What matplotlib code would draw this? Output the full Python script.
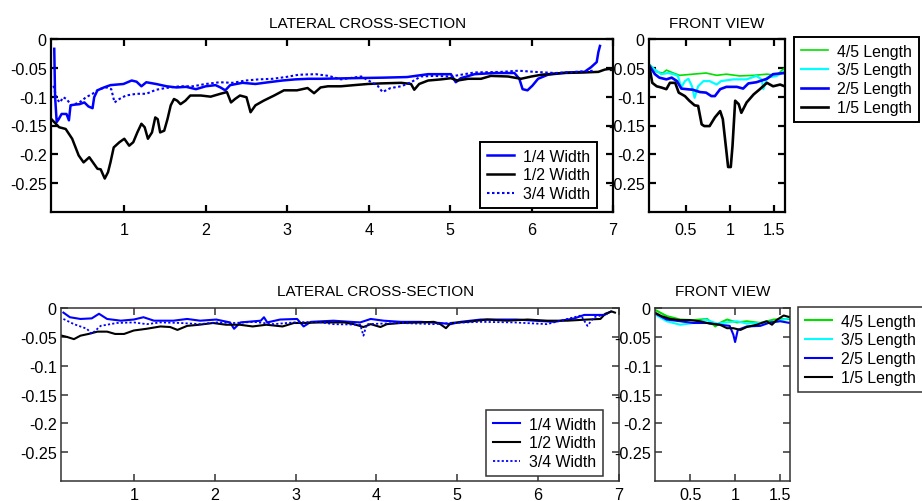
import matplotlib
matplotlib.use("Agg")
import matplotlib.pyplot as plt

plt.rcParams['font.family'] = ['Liberation Sans', 'DejaVu Sans']

# ---------------- upper pair: lateral cross-section ----------------
top_lat_q_x = [0.14, 0.15, 0.17, 0.195, 0.23, 0.29, 0.32, 0.34, 0.38, 0.45, 0.51, 0.56, 0.61, 0.63, 0.67,
               0.75, 0.83, 0.99, 1.09, 1.15, 1.21, 1.27, 1.39, 1.52, 1.64, 1.76, 1.88, 2.00, 2.12, 2.18,
               2.24, 2.30, 2.45, 2.61, 2.77, 2.94, 3.10, 3.26, 3.41, 3.78, 4.19, 4.47, 4.73, 5.01, 5.07,
               5.13, 5.30, 5.55, 5.79, 5.85, 5.89, 5.95, 6.01, 6.08, 6.20, 6.45, 6.65, 6.73, 6.80, 6.82, 6.84]
top_lat_q_y = [-0.017, -0.100, -0.144, -0.139, -0.130, -0.130, -0.141, -0.115, -0.114, -0.113, -0.110,
               -0.117, -0.120, -0.101, -0.089, -0.084, -0.080, -0.078, -0.072, -0.074, -0.082, -0.075,
               -0.078, -0.082, -0.084, -0.083, -0.087, -0.082, -0.080, -0.084, -0.089, -0.080, -0.076,
               -0.078, -0.075, -0.072, -0.070, -0.069, -0.069, -0.068, -0.067, -0.066, -0.061, -0.061,
               -0.075, -0.068, -0.061, -0.059, -0.059, -0.069, -0.087, -0.089, -0.081, -0.069, -0.062,
               -0.058, -0.057, -0.049, -0.040, -0.023, -0.012]

top_lat_h_x = [0.105, 0.20, 0.28, 0.36, 0.44, 0.50, 0.57, 0.63, 0.67, 0.71, 0.76, 0.80, 0.83, 0.87, 0.94,
               1.00, 1.06, 1.11, 1.16, 1.21, 1.25, 1.29, 1.34, 1.38, 1.41, 1.44, 1.49, 1.53, 1.57, 1.61,
               1.65, 1.69, 1.75, 1.81, 1.94, 2.06, 2.18, 2.26, 2.31, 2.36, 2.42, 2.50, 2.55, 2.61, 2.71,
               2.84, 2.96, 3.12, 3.25, 3.33, 3.41, 3.50, 3.66, 3.82, 3.99, 4.15, 4.40, 4.52, 4.56, 4.62,
               4.73, 4.89, 5.01, 5.09, 5.22, 5.38, 5.50, 5.71, 5.87, 6.00, 6.12, 6.37, 6.65, 6.82, 6.90, 7.00]
top_lat_h_y = [-0.139, -0.153, -0.156, -0.173, -0.202, -0.214, -0.205, -0.217, -0.225, -0.226, -0.242,
               -0.231, -0.214, -0.188, -0.179, -0.173, -0.185, -0.179, -0.162, -0.147, -0.153, -0.173,
               -0.162, -0.136, -0.139, -0.162, -0.159, -0.139, -0.115, -0.104, -0.107, -0.113, -0.107,
               -0.098, -0.098, -0.100, -0.095, -0.092, -0.110, -0.104, -0.098, -0.101, -0.127, -0.115,
               -0.107, -0.098, -0.089, -0.089, -0.085, -0.094, -0.084, -0.082, -0.082, -0.080, -0.078,
               -0.077, -0.076, -0.078, -0.088, -0.078, -0.072, -0.070, -0.068, -0.072, -0.069, -0.069,
               -0.064, -0.065, -0.069, -0.065, -0.062, -0.059, -0.058, -0.057, -0.053, -0.051]

top_lat_tq_x = [0.13, 0.17, 0.21, 0.25, 0.29, 0.35, 0.45, 0.53, 0.61, 0.69, 0.78, 0.84, 0.88, 0.94, 1.02,
                1.15, 1.27, 1.39, 1.51, 1.68, 1.84, 2.00, 2.17, 2.33, 2.49, 2.65, 2.82, 2.98, 3.14, 3.35,
                3.51, 3.66, 3.91, 4.11, 4.17, 4.27, 4.40, 4.52, 4.64, 4.80, 5.01, 5.30, 5.63, 5.84, 6.04,
                6.29, 6.53, 6.77]
top_lat_tq_y = [-0.081, -0.104, -0.110, -0.101, -0.104, -0.115, -0.110, -0.101, -0.095, -0.087, -0.084,
                -0.087, -0.110, -0.104, -0.098, -0.095, -0.095, -0.088, -0.085, -0.082, -0.082, -0.078,
                -0.075, -0.076, -0.072, -0.070, -0.069, -0.066, -0.062, -0.061, -0.064, -0.070, -0.065,
                -0.081, -0.092, -0.085, -0.082, -0.075, -0.065, -0.064, -0.065, -0.058, -0.057, -0.055,
                -0.057, -0.059, -0.057, -0.055]

# ---------------- upper pair: front view ----------------
top_fr_45_x = [0.09, 0.17, 0.24, 0.28, 0.36, 0.43, 0.58, 0.73, 0.85, 0.96, 1.11, 1.27, 1.42, 1.53, 1.62]
top_fr_45_y = [-0.044, -0.057, -0.059, -0.054, -0.059, -0.063, -0.061, -0.059, -0.063, -0.061, -0.064,
               -0.063, -0.061, -0.063, -0.050]
top_fr_35_x = [0.09, 0.15, 0.22, 0.30, 0.36, 0.41, 0.45, 0.49, 0.53, 0.57, 0.60, 0.64, 0.70, 0.77, 0.85,
               0.90, 1.04, 1.19, 1.30, 1.36, 1.38, 1.42, 1.53, 1.62]
top_fr_35_y = [-0.046, -0.053, -0.061, -0.059, -0.061, -0.064, -0.084, -0.073, -0.069, -0.082, -0.102,
               -0.082, -0.073, -0.073, -0.079, -0.073, -0.070, -0.070, -0.064, -0.070, -0.087, -0.067,
               -0.064, -0.056]
top_fr_25_x = [0.09, 0.15, 0.20, 0.28, 0.34, 0.40, 0.45, 0.51, 0.58, 0.66, 0.73, 0.79, 0.83, 0.89, 0.96,
               1.08, 1.15, 1.21, 1.30, 1.42, 1.49, 1.62]
top_fr_25_y = [-0.047, -0.061, -0.067, -0.070, -0.067, -0.073, -0.086, -0.087, -0.088, -0.092, -0.093,
               -0.099, -0.099, -0.087, -0.083, -0.083, -0.086, -0.077, -0.075, -0.069, -0.061, -0.059]
top_fr_15_x = [0.09, 0.12, 0.17, 0.22, 0.28, 0.32, 0.38, 0.42, 0.49, 0.54, 0.60, 0.64, 0.68, 0.71, 0.77,
               0.83, 0.89, 0.92, 0.96, 0.98, 1.01, 1.03, 1.06, 1.10, 1.13, 1.19, 1.27, 1.34, 1.42, 1.49,
               1.57, 1.62]
top_fr_15_y = [-0.050, -0.076, -0.082, -0.084, -0.087, -0.076, -0.076, -0.093, -0.099, -0.107, -0.115,
               -0.116, -0.148, -0.151, -0.151, -0.136, -0.125, -0.139, -0.194, -0.222, -0.222, -0.185,
               -0.107, -0.113, -0.128, -0.110, -0.096, -0.087, -0.076, -0.082, -0.079, -0.082]

# ---------------- lower pair: lateral cross-section ----------------
bot_lat_q_x = [0.13, 0.21, 0.34, 0.48, 0.57, 0.67, 0.84, 1.00, 1.12, 1.25, 1.49, 1.66, 1.82, 2.02, 2.19,
               2.24, 2.32, 2.57, 2.61, 2.65, 2.81, 3.02, 3.10, 3.19, 3.47, 3.68, 3.80, 3.93, 4.09, 4.30,
               4.55, 4.79, 4.92, 5.04, 5.29, 5.54, 5.74, 5.95, 6.20, 6.45, 6.57, 6.69, 6.82, 6.90]
bot_lat_q_y = [-0.008, -0.016, -0.019, -0.018, -0.010, -0.019, -0.022, -0.020, -0.016, -0.022, -0.022,
               -0.019, -0.022, -0.020, -0.025, -0.036, -0.025, -0.022, -0.016, -0.025, -0.020, -0.019,
               -0.032, -0.024, -0.022, -0.024, -0.025, -0.019, -0.022, -0.024, -0.024, -0.026, -0.028,
               -0.024, -0.020, -0.020, -0.020, -0.022, -0.024, -0.018, -0.012, -0.012, -0.012, -0.006]
bot_lat_h_x = [0.11, 0.17, 0.26, 0.34, 0.44, 0.55, 0.67, 0.77, 0.88, 1.00, 1.16, 1.33, 1.45, 1.54, 1.66,
               1.81, 1.98, 2.14, 2.31, 2.47, 2.64, 2.84, 2.98, 3.10, 3.31, 3.60, 3.72, 3.84, 3.93, 4.05,
               4.13, 4.30, 4.55, 4.71, 4.79, 4.86, 4.92, 5.12, 5.37, 5.62, 5.87, 6.11, 6.36, 6.61, 6.77,
               6.83, 6.91, 6.95]
bot_lat_h_y = [-0.048, -0.050, -0.054, -0.048, -0.045, -0.041, -0.041, -0.045, -0.045, -0.039, -0.036,
               -0.032, -0.033, -0.038, -0.031, -0.029, -0.026, -0.029, -0.029, -0.032, -0.029, -0.032,
               -0.026, -0.026, -0.025, -0.025, -0.028, -0.033, -0.028, -0.033, -0.028, -0.026, -0.025,
               -0.024, -0.028, -0.035, -0.026, -0.024, -0.020, -0.022, -0.020, -0.022, -0.022, -0.020,
               -0.019, -0.010, -0.006, -0.008]
bot_lat_tq_x = [0.13, 0.26, 0.42, 0.48, 0.59, 0.79, 1.00, 1.16, 1.33, 1.58, 1.82, 2.02, 2.24, 2.48, 2.73,
                2.98, 3.27, 3.47, 3.80, 3.84, 3.88, 4.30, 4.71, 4.92, 5.29, 5.70, 6.11, 6.36, 6.53, 6.61,
                6.69, 6.86]
bot_lat_tq_y = [-0.019, -0.028, -0.036, -0.045, -0.031, -0.026, -0.025, -0.028, -0.025, -0.026, -0.028,
                -0.025, -0.026, -0.024, -0.028, -0.025, -0.024, -0.028, -0.029, -0.048, -0.028, -0.026,
                -0.028, -0.026, -0.024, -0.025, -0.028, -0.019, -0.013, -0.031, -0.016, -0.010]

# ---------------- lower pair: front view ----------------
bot_fr_45_x = [0.12, 0.24, 0.39, 0.54, 0.69, 0.78, 0.83, 0.91, 1.02, 1.13, 1.28, 1.43, 1.61]
bot_fr_45_y = [-0.004, -0.014, -0.020, -0.021, -0.019, -0.032, -0.026, -0.020, -0.025, -0.023, -0.026,
               -0.020, -0.019]
bot_fr_35_x = [0.12, 0.24, 0.39, 0.54, 0.67, 0.80, 0.91, 1.02, 1.13, 1.28, 1.43, 1.61]
bot_fr_35_y = [-0.012, -0.023, -0.029, -0.026, -0.020, -0.027, -0.025, -0.023, -0.027, -0.026, -0.025,
               -0.017]
bot_fr_25_x = [0.12, 0.24, 0.39, 0.54, 0.69, 0.83, 0.94, 0.98, 1.00, 1.03, 1.13, 1.28, 1.39, 1.50, 1.61]
bot_fr_25_y = [-0.010, -0.020, -0.023, -0.026, -0.026, -0.029, -0.031, -0.046, -0.059, -0.038, -0.032,
               -0.031, -0.025, -0.023, -0.026]
bot_fr_15_x = [0.12, 0.18, 0.28, 0.39, 0.50, 0.61, 0.72, 0.83, 0.91, 0.98, 1.06, 1.13, 1.24, 1.35, 1.41,
               1.46, 1.54, 1.61]
bot_fr_15_y = [-0.009, -0.014, -0.019, -0.021, -0.021, -0.023, -0.027, -0.029, -0.035, -0.035, -0.038,
               -0.033, -0.029, -0.023, -0.029, -0.021, -0.013, -0.016]

# ---------------- axis labelling ----------------
y_ticks = [0, -0.05, -0.1, -0.15, -0.2, -0.25]
y_tick_labels = ['0', '-0.05', '-0.1', '-0.15', '-0.2', '-0.25']
lat_ticks = [1, 2, 3, 4, 5, 6, 7]
lat_tick_labels = ['1', '2', '3', '4', '5', '6', '7']
fr_ticks = [0.5, 1, 1.5]
fr_tick_labels = ['0.5', '1', '1.5']
lat_labels = ['1/4 Width', '1/2 Width', '3/4 Width']
fr_labels = ['4/5 Length', '3/5 Length', '2/5 Length', '1/5 Length']
lat_title = 'LATERAL CROSS-SECTION'
fr_title = 'FRONT VIEW'

BLUE, BLACK, GREEN, CYAN = '#0000ff', '#000000', '#00e000', '#00ffff'

W, H = 922, 502
fig = plt.figure(figsize=(W / 100, H / 100), dpi=100)


def rect(l, t, r, b):
    return [l / W, 1 - b / H, (r - l) / W, (b - t) / H]


def style(ax, xlim, xticks, xlabels, frame_color, frame_lw, xpad):
    ax.set_xlim(*xlim)
    ax.set_ylim(-0.3, 0)
    ax.set_xticks(xticks)
    ax.set_xticklabels(xlabels)
    ax.set_yticks(y_ticks)
    ax.set_yticklabels(y_tick_labels)
    ax.tick_params(direction='in', top=True, right=True, length=5, width=frame_lw,
                   color=frame_color, labelsize=11.6, labelcolor='black')
    ax.tick_params(axis='y', pad=3)
    ax.tick_params(axis='x', pad=xpad)
    for s in ax.spines.values():
        s.set_linewidth(frame_lw)
        s.set_color(frame_color)


leg_kw = dict(fontsize=11.4, handlelength=1.75, handletextpad=0.55, borderpad=0.42,
              labelspacing=0.24, fancybox=False, framealpha=1, borderaxespad=0,
              loc='upper left', bbox_transform=fig.transFigure)

# upper lateral
ax1 = fig.add_axes(rect(51, 40, 613, 213))
l1, = ax1.plot(top_lat_q_x, top_lat_q_y, color=BLUE, lw=1.8)
l2, = ax1.plot(top_lat_h_x, top_lat_h_y, color=BLACK, lw=1.8)
l3, = ax1.plot(top_lat_tq_x, top_lat_tq_y, color=BLUE, lw=1.5, linestyle=(0, (1.2, 1.2)))
style(ax1, (0.1, 7), lat_ticks, lat_tick_labels, 'black', 1.6, 7)
ax1.set_title(lat_title, fontsize=11, x=0.564, pad=9)
lg = ax1.legend([l1, l2, l3], lat_labels, bbox_to_anchor=(480 / W, 1 - 143 / H), **leg_kw)
lg.get_frame().set_edgecolor('black')
lg.get_frame().set_linewidth(1.4)

# upper front view
ax2 = fig.add_axes(rect(649, 40, 785, 213))
f1, = ax2.plot(top_fr_45_x, top_fr_45_y, color=GREEN, lw=1.2)
f2, = ax2.plot(top_fr_35_x, top_fr_35_y, color=CYAN, lw=1.6)
f3, = ax2.plot(top_fr_25_x, top_fr_25_y, color=BLUE, lw=1.9)
f4, = ax2.plot(top_fr_15_x, top_fr_15_y, color=BLACK, lw=1.9)
style(ax2, (0.083, 1.625), fr_ticks, fr_tick_labels, 'black', 1.6, 7)
ax2.set_title(fr_title, fontsize=11, pad=9)
lg = ax2.legend([f1, f2, f3, f4], fr_labels, bbox_to_anchor=(794 / W, 1 - 38 / H), **leg_kw)
lg.get_frame().set_edgecolor('black')
lg.get_frame().set_linewidth(1.4)

# lower lateral
ax3 = fig.add_axes(rect(61, 309, 619, 482))
m1, = ax3.plot(bot_lat_q_x, bot_lat_q_y, color=BLUE, lw=1.5)
m2, = ax3.plot(bot_lat_h_x, bot_lat_h_y, color=BLACK, lw=1.5)
m3, = ax3.plot(bot_lat_tq_x, bot_lat_tq_y, color=BLUE, lw=1.3, linestyle=(0, (1.2, 1.2)))
style(ax3, (0.1, 7), lat_ticks, lat_tick_labels, '#333333', 1.1, 4)
ax3.set_title(lat_title, fontsize=11, x=0.563, pad=9)
lg = ax3.legend([m1, m2, m3], lat_labels, bbox_to_anchor=(486 / W, 1 - 411 / H), **leg_kw)
lg.get_frame().set_edgecolor('#333333')
lg.get_frame().set_linewidth(1.1)

# lower front view
ax4 = fig.add_axes(rect(655, 309, 790, 482))
g1, = ax4.plot(bot_fr_45_x, bot_fr_45_y, color=GREEN, lw=1.5)
g2, = ax4.plot(bot_fr_35_x, bot_fr_35_y, color=CYAN, lw=1.5)
g3, = ax4.plot(bot_fr_25_x, bot_fr_25_y, color=BLUE, lw=1.5)
g4, = ax4.plot(bot_fr_15_x, bot_fr_15_y, color=BLACK, lw=1.5)
style(ax4, (0.11, 1.61), fr_ticks, fr_tick_labels, '#333333', 1.1, 4)
ax4.set_title(fr_title, fontsize=11, pad=9)
lg = ax4.legend([g1, g2, g3, g4], fr_labels, bbox_to_anchor=(798 / W, 1 - 308 / H), **leg_kw)
lg.get_frame().set_edgecolor('#333333')
lg.get_frame().set_linewidth(1.1)

fig.savefig('out.png', dpi=100)
